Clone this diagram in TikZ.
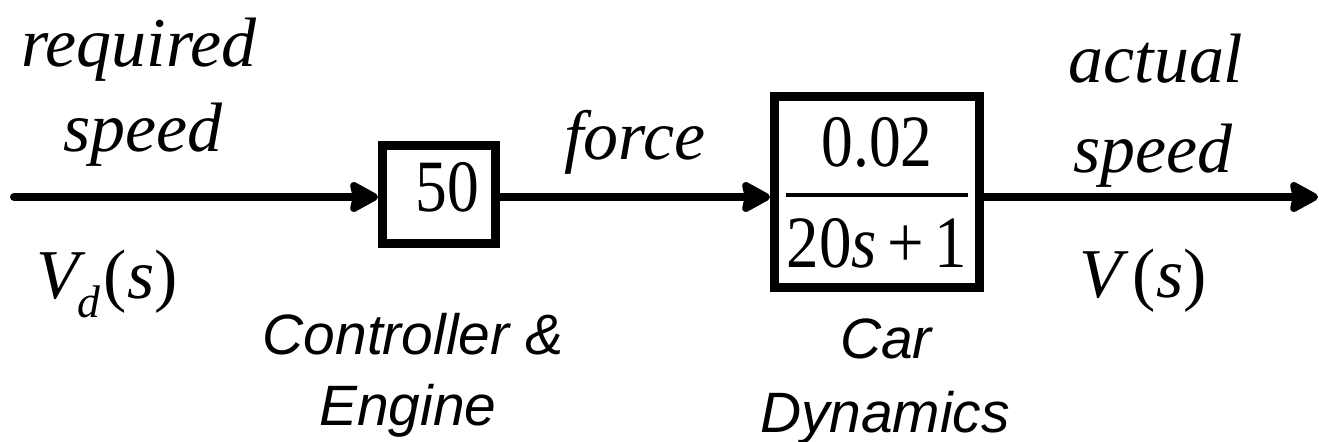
\documentclass[tikz,border=0pt]{standalone}
\usepackage{fontspec}
\usepackage{graphicx}
\setmainfont{Liberation Serif}
\newfontfamily\sansfam{Liberation Sans}
\usetikzlibrary{arrows.meta}

% serif labels (signals, gains) and sans captions (block names)
\newcommand{\sigfont}{\fontsize{39.8pt}{44pt}\selectfont}
\newcommand{\numfont}{\fontsize{42pt}{46pt}\selectfont}
\newcommand{\capfont}{\sansfam\itshape\fontsize{32.4pt}{36pt}\selectfont}

\begin{document}
\begin{tikzpicture}[x=0.02cm, y=-0.02cm,
  block/.style={draw, line width=0.18cm, inner sep=0pt},
  conn/.style={line width=0.16cm, line cap=round,
    -{Stealth[length=0.66cm, width=0.7cm, inset=0.07cm, round]}},
  sig/.style={anchor=base, inner sep=0pt, font=\sigfont\itshape},
  num/.style={anchor=base, inner sep=0pt, font=\numfont},
  blockcap/.style={anchor=base, inner sep=0pt, font=\capfont}]

  \useasboundingbox (0,0) rectangle (1319,442);

  % blocks
  \node[block, minimum width=2.26cm, minimum height=1.96cm] (b1) at (439,194.5) {};
  \node[block, minimum width=4.1cm, minimum height=3.82cm] (b2) at (877,192) {};

  % block contents
  \node[num] (gain) at (447,212) {\scalebox{0.86}[1]{50}};
  \node[num] (numer) at (877,167) {\scalebox{0.86}[1]{0.02}};
  \node[num] (denom) at (877,268) {\scalebox{0.88}[1]{20\textit{s}\,+\,1}};
  \coordinate (barL) at (786,195);
  \coordinate (barR) at (968,195);
  \draw[line width=0.07cm] (barL) -- (barR);

  % signal path
  \coordinate (src) at (14,197);
  \coordinate (dst) at (1318,197);
  \draw[conn] (src) -- (src -| b1.west);
  \draw[conn] (b1.east |- src) -- (b2.west |- src);
  \draw[conn] (b2.east |- src) -- (dst);

  % signal labels
  \node[sig] (req1) at (139,67) {required};
  \node[sig] (req2) at (143,152) {speed};
  \node[sig, anchor=base west, font=\sigfont] (vd) at (36,298)
    {\textit{V}\kern-0.12em\raisebox{-0.28em}{\fontsize{26pt}{28pt}\selectfont\textit{d}}\kern0.05em(\textit{s})};
  \node[sig] (frc) at (635,160) {force};
  \node[sig] (act1) at (1156,83) {actual};
  \node[sig] (act2) at (1153,173) {speed};
  \node[sig, font=\sigfont] (vs) at (1143,297) {\textit{V}\kern0.06em(\textit{s})};

  % block captions
  \node[blockcap] (c1a) at (413,355) {Controller \&};
  \node[blockcap] (c1b) at (408,425) {Engine};
  \node[blockcap] (c2a) at (886,358) {Car};
  \node[blockcap] (c2b) at (885,432) {Dynamics};
\end{tikzpicture}
\end{document}
